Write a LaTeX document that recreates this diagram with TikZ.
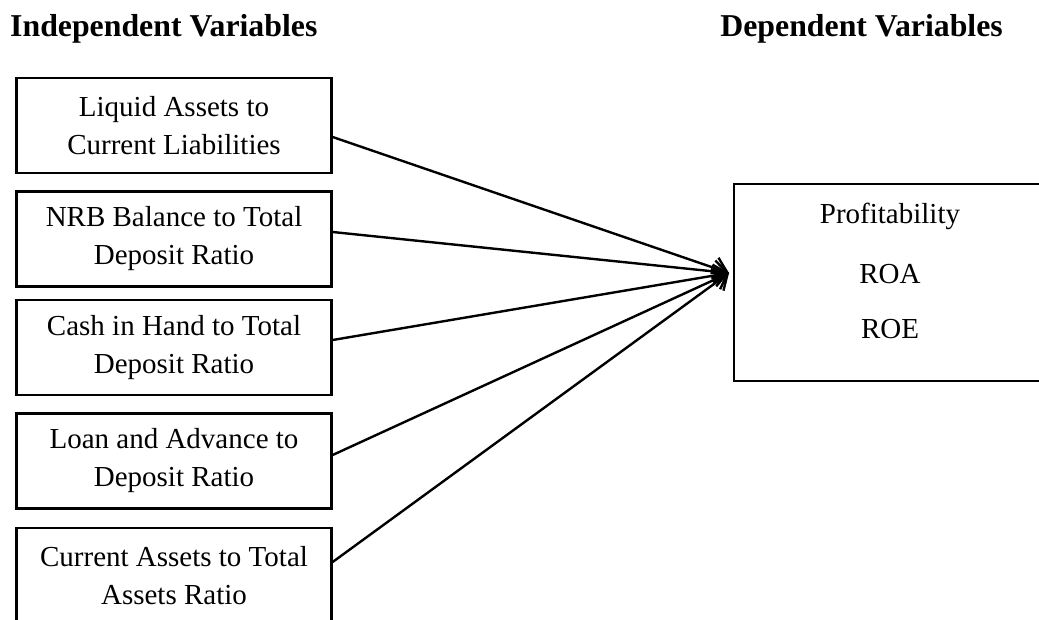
\documentclass[tikz,border=0pt]{standalone}
\usepackage{fontspec}
\setmainfont{Liberation Serif}
\usetikzlibrary{arrows.meta,calc}
\begin{document}
\begin{tikzpicture}[x=1pt,y=1pt,
  varbox/.style={draw, line width=2.3pt, minimum width=315pt, minimum height=95pt, inner sep=0pt, align=center, font=\fontsize{29}{38}\selectfont},
  depbox/.style={draw, line width=2.3pt, minimum width=312pt, minimum height=197pt, inner sep=0pt},
  deptext/.style={inner sep=0pt, anchor=base, font=\fontsize{29}{34}\selectfont},
  heading/.style={inner sep=0pt, font=\fontsize{31.8}{38}\selectfont\bfseries},
  link/.style={line width=2.4pt, -{Straight Barb[length=13pt,width=22pt,line width=2.4pt]}}
]
\useasboundingbox (0,0) rectangle (1039,-619);
\node[heading, anchor=base west] (hi) at (10,-36) {Independent Variables};
\node[heading, anchor=base east] (hd) at (1003,-36) {Dependent Variables};

\node[varbox] (b1) at (174,-125.5) {Liquid Assets to\\Current Liabilities};
\node[varbox] (b2) at (174,-239) {NRB Balance to Total\\Deposit Ratio};
\node[varbox] (b3) at (174,-347.5) {Cash in Hand to Total\\Deposit Ratio};
\node[varbox] (b4) at (174,-461) {Loan and Advance to\\Deposit Ratio};
\node[varbox] (b5) at (174,-575.5) {Current Assets to Total\\Assets Ratio};

\node[depbox] (dep) at (890,-282.5) {};
\node[deptext] (t1) at (890,-223) {Profitability};
\node[deptext] (t2) at (890,-283) {ROA};
\node[deptext] (t3) at (890,-338) {ROE};

\coordinate (tip) at (729,-273);
\draw[link] (b1.east |- 0,-137) -- (tip);
\draw[link] (b2.east |- 0,-232) -- (tip);
\draw[link] (b3.east |- 0,-340) -- (tip);
\draw[link] (b4.east |- 0,-455) -- (tip);
\draw[link] (b5.east |- 0,-562) -- (tip);
\end{tikzpicture}
\end{document}
